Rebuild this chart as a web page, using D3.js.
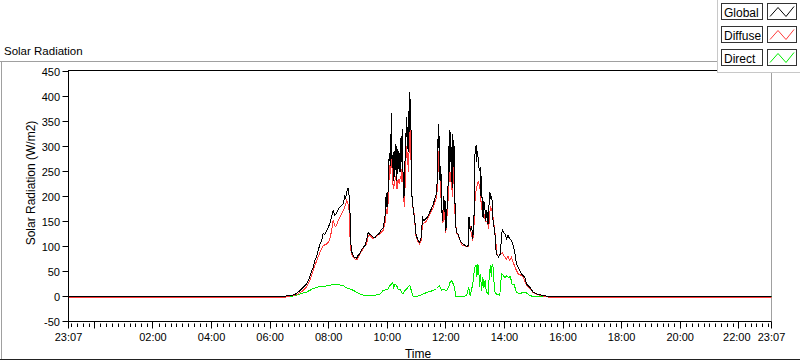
<!DOCTYPE html>
<html>
<head>
<meta charset="utf-8">
<script src="https://cdn.jsdelivr.net/npm/d3@7"></script>
<style>
  body { margin: 0; background: #fff; }
  svg { display: block; font-family: "Liberation Sans", Arial, sans-serif; }
</style>
</head>
<body>
<div id="chart"></div>
<script>
// hour of day (day of the plot), value in W/m2
const globalData = [[-0.883,0],[6.45,0],[6.56,1],[6.70,2],[6.79,3],[6.90,6],[7.02,12],[7.13,18],[7.25,26],[7.33,36],[7.42,52],[7.47,58],[7.53,72],[7.59,80],[7.64,92],[7.70,104],[7.76,112],[7.81,126],[7.87,124],[7.93,132],[7.98,138],[8.04,146],[8.10,160],[8.15,172],[8.21,162],[8.27,166],[8.32,174],[8.38,179],[8.44,182],[8.50,186],[8.55,202],[8.58,196],[8.61,209],[8.66,216],[8.70,200],[8.72,186],[8.74,132],[8.77,92],[8.82,84],[8.86,79],[8.91,78],[8.95,76],[9.00,82],[9.06,86],[9.12,94],[9.18,98],[9.24,102],[9.29,112],[9.35,128],[9.41,124],[9.46,122],[9.52,118],[9.58,118],[9.63,122],[9.69,124],[9.75,128],[9.80,134],[9.86,138],[9.90,150],[9.93,166],[9.95,198],[9.97,180],[9.99,206],[10.01,179],[10.04,240],[10.06,278],[10.08,286],[10.10,262],[10.12,300],[10.14,366],[10.15,298],[10.17,258],[10.19,282],[10.21,232],[10.23,290],[10.25,240],[10.27,305],[10.29,266],[10.31,232],[10.33,300],[10.35,245],[10.37,258],[10.39,290],[10.41,250],[10.43,286],[10.45,250],[10.47,320],[10.49,270],[10.51,334],[10.53,258],[10.55,230],[10.57,198],[10.59,250],[10.61,278],[10.63,300],[10.65,358],[10.67,320],[10.69,338],[10.71,290],[10.73,370],[10.75,330],[10.77,408],[10.79,360],[10.81,332],[10.83,232],[10.85,186],[10.88,179],[10.92,160],[10.95,145],[10.98,125],[11.03,115],[11.10,108],[11.16,118],[11.20,158],[11.25,152],[11.30,155],[11.36,158],[11.42,165],[11.50,175],[11.57,185],[11.62,195],[11.68,205],[11.71,238],[11.74,344],[11.76,298],[11.78,320],[11.80,232],[11.83,260],[11.85,179],[11.89,152],[11.92,200],[11.95,170],[11.97,192],[12.00,132],[12.03,165],[12.06,200],[12.08,232],[12.10,300],[12.12,250],[12.14,332],[12.16,270],[12.18,298],[12.20,240],[12.22,218],[12.24,324],[12.26,260],[12.28,300],[12.30,238],[12.32,152],[12.36,128],[12.42,125],[12.50,110],[12.58,105],[12.66,102],[12.72,100],[12.76,102],[12.79,158],[12.83,132],[12.88,140],[12.92,115],[12.96,158],[12.99,282],[13.03,302],[13.05,270],[13.08,290],[13.11,272],[13.14,252],[13.18,258],[13.20,200],[13.22,240],[13.24,178],[13.27,158],[13.30,190],[13.33,178],[13.36,152],[13.40,172],[13.44,145],[13.47,180],[13.50,209],[13.54,195],[13.57,200],[13.60,158],[13.64,140],[13.68,122],[13.72,85],[13.76,82],[13.80,79],[13.86,85],[13.90,120],[13.93,135],[13.97,128],[14.02,125],[14.07,115],[14.12,122],[14.18,115],[14.24,112],[14.30,102],[14.35,89],[14.41,65],[14.47,58],[14.52,52],[14.58,45],[14.64,42],[14.70,38],[14.75,25],[14.87,18],[14.98,9],[15.10,5],[15.32,2],[15.50,0],[23.117,0]];

const diffuseData = [[-0.883,-2],[6.50,-2],[6.56,0],[6.79,2],[6.95,5],[7.02,8],[7.13,12],[7.25,20],[7.36,32],[7.47,52],[7.59,72],[7.70,88],[7.81,102],[7.90,104],[7.98,108],[8.04,115],[8.10,132],[8.15,152],[8.22,140],[8.27,142],[8.32,152],[8.44,165],[8.55,179],[8.61,192],[8.66,185],[8.70,170],[8.72,125],[8.77,85],[8.84,78],[8.89,75],[8.96,73],[9.03,80],[9.10,88],[9.20,98],[9.29,105],[9.35,122],[9.41,122],[9.52,116],[9.63,120],[9.75,126],[9.86,132],[9.93,150],[9.96,175],[9.99,165],[10.02,180],[10.05,220],[10.08,262],[10.11,245],[10.14,300],[10.17,240],[10.21,215],[10.25,228],[10.29,240],[10.33,215],[10.37,235],[10.41,225],[10.45,240],[10.49,230],[10.51,270],[10.55,210],[10.58,180],[10.62,240],[10.65,300],[10.69,280],[10.72,250],[10.75,300],[10.77,340],[10.80,300],[10.83,215],[10.86,180],[10.90,175],[10.95,140],[10.98,122],[11.03,112],[11.10,105],[11.16,112],[11.20,145],[11.30,148],[11.42,160],[11.57,178],[11.68,198],[11.72,225],[11.75,290],[11.79,250],[11.83,200],[11.86,175],[11.90,148],[11.94,180],[12.00,128],[12.05,170],[12.09,205],[12.13,260],[12.16,230],[12.19,240],[12.22,200],[12.25,260],[12.29,210],[12.32,150],[12.38,125],[12.42,122],[12.55,103],[12.71,100],[12.76,100],[12.80,150],[12.86,128],[12.92,112],[12.97,150],[13.00,200],[13.05,218],[13.10,230],[13.16,220],[13.20,190],[13.24,170],[13.30,165],[13.36,150],[13.42,150],[13.46,135],[13.52,180],[13.58,170],[13.63,150],[13.69,120],[13.74,85],[13.80,79],[13.86,85],[13.93,88],[14.00,80],[14.07,75],[14.12,80],[14.18,72],[14.24,79],[14.30,68],[14.35,60],[14.41,52],[14.47,45],[14.52,44],[14.58,42],[14.64,38],[14.70,30],[14.75,22],[14.87,15],[14.98,8],[15.10,4],[15.32,1],[15.55,-2],[23.117,-2]];

const directData = [[-0.883,0],[6.55,0],[6.79,1],[7.02,5],[7.25,9],[7.47,16],[7.64,19],[7.81,20],[8.04,22],[8.15,25],[8.27,24],[8.38,23],[8.50,22],[8.61,17],[8.72,15],[8.86,12],[8.95,8],[9.06,5],[9.18,3],[9.29,2],[9.41,1],[9.52,2],[9.63,3],[9.75,5],[9.86,12],[9.98,14],[10.03,15],[10.09,22],[10.14,25],[10.18,28],[10.22,18],[10.27,25],[10.33,20],[10.38,14],[10.43,15],[10.49,8],[10.54,5],[10.60,12],[10.66,15],[10.72,20],[10.77,22],[10.82,12],[10.88,0],[11.00,0],[11.11,2],[11.23,5],[11.34,8],[11.45,10],[11.57,12],[11.68,16],[11.78,22],[11.85,12],[11.91,15],[12.02,12],[12.09,18],[12.14,28],[12.20,32],[12.25,25],[12.30,18],[12.33,0],[12.48,0],[12.59,0],[12.71,2],[12.78,18],[12.83,2],[12.92,25],[12.98,58],[13.03,62],[13.06,40],[13.09,64],[13.12,58],[13.15,20],[13.18,45],[13.22,12],[13.26,38],[13.30,18],[13.34,32],[13.38,10],[13.44,5],[13.48,40],[13.52,62],[13.55,40],[13.58,64],[13.62,58],[13.66,10],[13.72,5],[13.84,2],[13.90,45],[13.96,42],[14.02,38],[14.08,42],[14.14,38],[14.20,40],[14.26,25],[14.33,25],[14.40,9],[14.52,5],[14.64,9],[14.75,7],[14.87,2],[14.98,0],[23.117,0]];

const yTicks = [450, 400, 350, 300, 250, 200, 150, 100, 50, 0, -50];
const xMajorHours = [0, 2, 4, 6, 8, 10, 12, 14, 16, 18, 20, 22];
const startHour = -53 / 60, endHour = 23 + 7 / 60;

const series = [
    { name: "Direct", data: directData, color: "#00ee00" },
    { name: "Diffuse", data: diffuseData, color: "#ff3b3b" },
    { name: "Global", data: globalData, color: "#000000" }
];
const legendOrder = ["Global", "Diffuse", "Direct"];

const width = 800, height = 361;
const plotLeft = 68.5, plotRight = 771.5, plotTop = 71.5, plotBottom = 321.5;

const base = new Date(2021, 5, 15).getTime();
const toDate = h => new Date(base + h * 3600000);

const x = d3.scaleTime()
    .domain([toDate(startHour), toDate(endHour)])
    .range([plotLeft, plotRight]);
const y = d3.scaleLinear()
    .domain([-50, 450])
    .range([plotBottom, plotTop]);
const fmt = d3.timeFormat("%H:%M");

const svg = d3.select("#chart").append("svg")
    .attr("width", width)
    .attr("height", height);

svg.append("rect").attr("width", width).attr("height", height).attr("fill", "#fff");

// outer frame
svg.append("line").attr("x1", 0).attr("x2", 717).attr("y1", 61.5).attr("y2", 61.5).attr("stroke", "#a0a0a0");
svg.append("line").attr("x1", 1.5).attr("x2", 1.5).attr("y1", 61.5).attr("y2", 360).attr("stroke", "#a0a0a0");
svg.append("line").attr("x1", 0).attr("x2", width).attr("y1", 359.5).attr("y2", 359.5).attr("stroke", "#222");

svg.append("text")
    .attr("x", 4).attr("y", 55)
    .style("font-size", "11.5px")
    .text("Solar Radiation");

// plot frame
svg.append("line").attr("x1", plotRight).attr("x2", plotRight).attr("y1", 70).attr("y2", plotBottom).attr("stroke", "#a0a0a0");
svg.append("line").attr("x1", plotLeft).attr("x2", plotRight).attr("y1", 70.5).attr("y2", 70.5).attr("stroke", "#000");

svg.append("clipPath").attr("id", "plotClip")
    .append("rect").attr("x", plotLeft).attr("y", 70).attr("width", plotRight - plotLeft).attr("height", plotBottom - 70);

const line = d3.line()
    .x(d => x(toDate(d[0])))
    .y(d => y(d[1]));

svg.append("g").attr("clip-path", "url(#plotClip)")
    .selectAll("path")
    .data(series)
    .join("path")
    .attr("d", d => line(d.data))
    .attr("fill", "none")
    .attr("stroke", d => d.color)
    .attr("stroke-width", 1)
    .attr("shape-rendering", "crispEdges");

// y axis
const yAxis = svg.append("g");
yAxis.append("line").attr("x1", plotLeft).attr("x2", plotLeft).attr("y1", 70).attr("y2", plotBottom + 0.5).attr("stroke", "#000");
yTicks.forEach(v => {
    yAxis.append("line")
        .attr("x1", plotLeft - 6).attr("x2", plotLeft)
        .attr("y1", y(v)).attr("y2", y(v))
        .attr("stroke", "#000");
    yAxis.append("text")
        .attr("x", plotLeft - 8.5).attr("y", y(v) + 4)
        .attr("text-anchor", "end")
        .style("font-size", "11px")
        .text(v);
});
svg.append("text")
    .attr("transform", "translate(35,183) rotate(-90)")
    .attr("text-anchor", "middle")
    .style("font-size", "12px")
    .text("Solar Radiation (W/m2)");

// x axis
const xAxis = svg.append("g");
xAxis.append("line").attr("x1", plotLeft).attr("x2", plotRight).attr("y1", plotBottom).attr("y2", plotBottom).attr("stroke", "#000");
for (let k = -4; k * 0.2 <= endHour; k++) {
    if (k % 10 === 0) continue;
    const px = Math.round(x(toDate(k * 0.2))) + 0.5;
    xAxis.append("line")
        .attr("x1", px).attr("x2", px)
        .attr("y1", plotBottom + 2).attr("y2", plotBottom + 5.5)
        .attr("stroke", "#000");
}
const majors = [startHour].concat(xMajorHours, [endHour]);
majors.forEach(h => {
    const px = Math.round(x(toDate(h)) - 0.5) + 0.5;
    xAxis.append("line")
        .attr("x1", px).attr("x2", px)
        .attr("y1", plotBottom).attr("y2", plotBottom + 7)
        .attr("stroke", "#000");
    if (h === 0) return;
    let lx = x(toDate(h));
    if (h === 22) lx -= 2;
    xAxis.append("text")
        .attr("x", lx).attr("y", 341)
        .attr("text-anchor", "middle")
        .style("font-size", "11px")
        .text(fmt(toDate(h)));
});
svg.append("text")
    .attr("x", 418).attr("y", 357.5)
    .attr("text-anchor", "middle")
    .style("font-size", "12px")
    .text("Time");

// legend
const legend = svg.append("g");
legend.append("rect")
    .attr("x", 717.5).attr("y", -1).attr("width", 90).attr("height", 73.5)
    .attr("fill", "#fff").attr("stroke", "#c8c8c8");
legendOrder.forEach((name, i) => {
    const s = series.find(d => d.name === name);
    const ty = 3.5 + i * 23;
    const row = legend.append("g");
    row.append("rect")
        .attr("x", 721.5).attr("y", ty).attr("width", 41).attr("height", 16)
        .attr("fill", "#fff").attr("stroke", "#333");
    row.append("text")
        .attr("x", 724).attr("y", ty + 13.5)
        .style("font-size", "12px")
        .text(name);
    row.append("rect")
        .attr("x", 767.5).attr("y", ty).attr("width", 29).attr("height", 16)
        .attr("fill", "#fff").attr("stroke", "#333");
    row.append("path")
        .attr("d", `M770,${ty + 13} L778,${ty + 4} L786,${ty + 13} L794,${ty + 3}`)
        .attr("fill", "none")
        .attr("stroke", s.color);
});
</script>
</body>
</html>
